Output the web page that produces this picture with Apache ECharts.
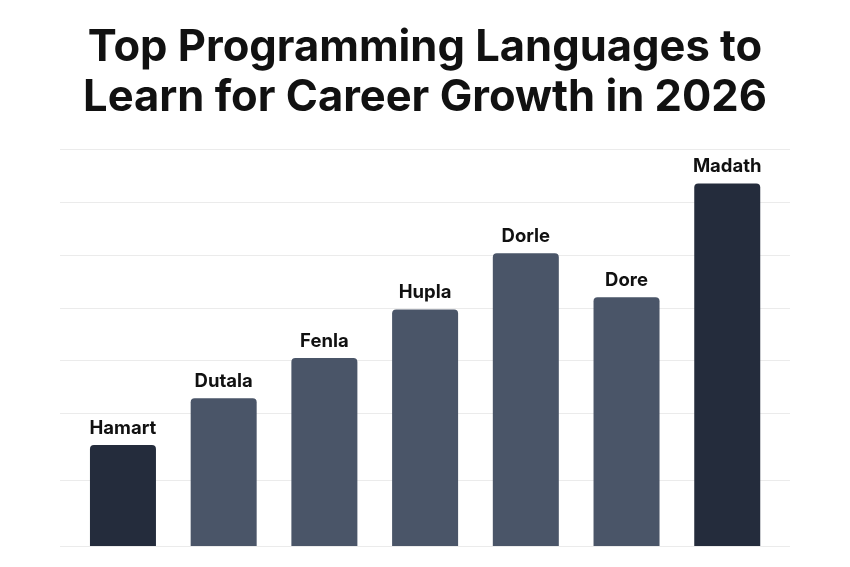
<!DOCTYPE html>
<html lang="en">
<head>
    <meta charset="utf-8" />
    <title>Top Programming Languages</title>
    <script src="https://cdn.jsdelivr.net/npm/echarts@6/dist/echarts.min.js"></script>
    <style>
        html, body { margin: 0; padding: 0; background: #fff; }
        #chart { width: 850px; height: 567px; }
    </style>
</head>
<body>
<div id="chart"></div>
<script>
    // data
    var languages = ['Hamart', 'Dutala', 'Fenla', 'Hupla', 'Dorle', 'Dore', 'Madath'];
    var scores = [19.1, 27.9, 35.5, 44.7, 55.3, 47.0, 68.5];
    var gridValues = [0, 12.5, 25, 35, 45, 55, 65, 75];

    var maxScore = Math.max.apply(null, scores);

    var chart = echarts.init(document.getElementById('chart'));

    chart.setOption({
        animation: false,
        title: {
            text: 'Top Programming Languages to\nLearn for Career Growth in 2026',
            left: 'center',
            top: 18,
            textStyle: {
                fontFamily: 'Inter',
                fontSize: 43.5,
                fontWeight: 'bold',
                lineHeight: 50,
                color: '#111111'
            }
        },
        // grid 0 only carries the background lines, grid 1 the bars
        grid: [
            { left: 60, right: 60, top: 149, bottom: 21 },
            { left: 72.6, right: 72.4, top: 149, bottom: 21 }
        ],
        xAxis: [
            { gridIndex: 0, type: 'value', min: 0, max: 1, show: false },
            {
                gridIndex: 1,
                type: 'category',
                data: languages,
                axisLine: { show: false },
                axisTick: { show: false },
                axisLabel: { show: false }
            }
        ],
        yAxis: [
            {
                gridIndex: 0,
                type: 'value',
                min: 0,
                max: 75,
                axisLine: { show: false },
                axisTick: { show: false, customValues: gridValues },
                axisLabel: { show: false, customValues: gridValues },
                splitLine: { show: true, lineStyle: { color: '#ebebeb', width: 1 } }
            },
            {
                gridIndex: 1,
                type: 'value',
                min: 0,
                max: 75,
                show: false,
                splitLine: { show: false }
            }
        ],
        series: [
            {
                type: 'bar',
                xAxisIndex: 1,
                yAxisIndex: 1,
                data: scores,
                barWidth: 66,
                itemStyle: {
                    borderRadius: [4, 4, 0, 0],
                    color: function (p) {
                        return (p.dataIndex === 0 || p.value === maxScore) ? '#242c3c' : '#4a5568';
                    }
                },
                label: {
                    show: true,
                    position: 'top',
                    distance: 7,
                    formatter: '{b}',
                    fontFamily: 'Inter',
                    fontSize: 18.5,
                    fontWeight: 'bold',
                    color: '#111111'
                }
            }
        ]
    });
</script>
</body>
</html>
